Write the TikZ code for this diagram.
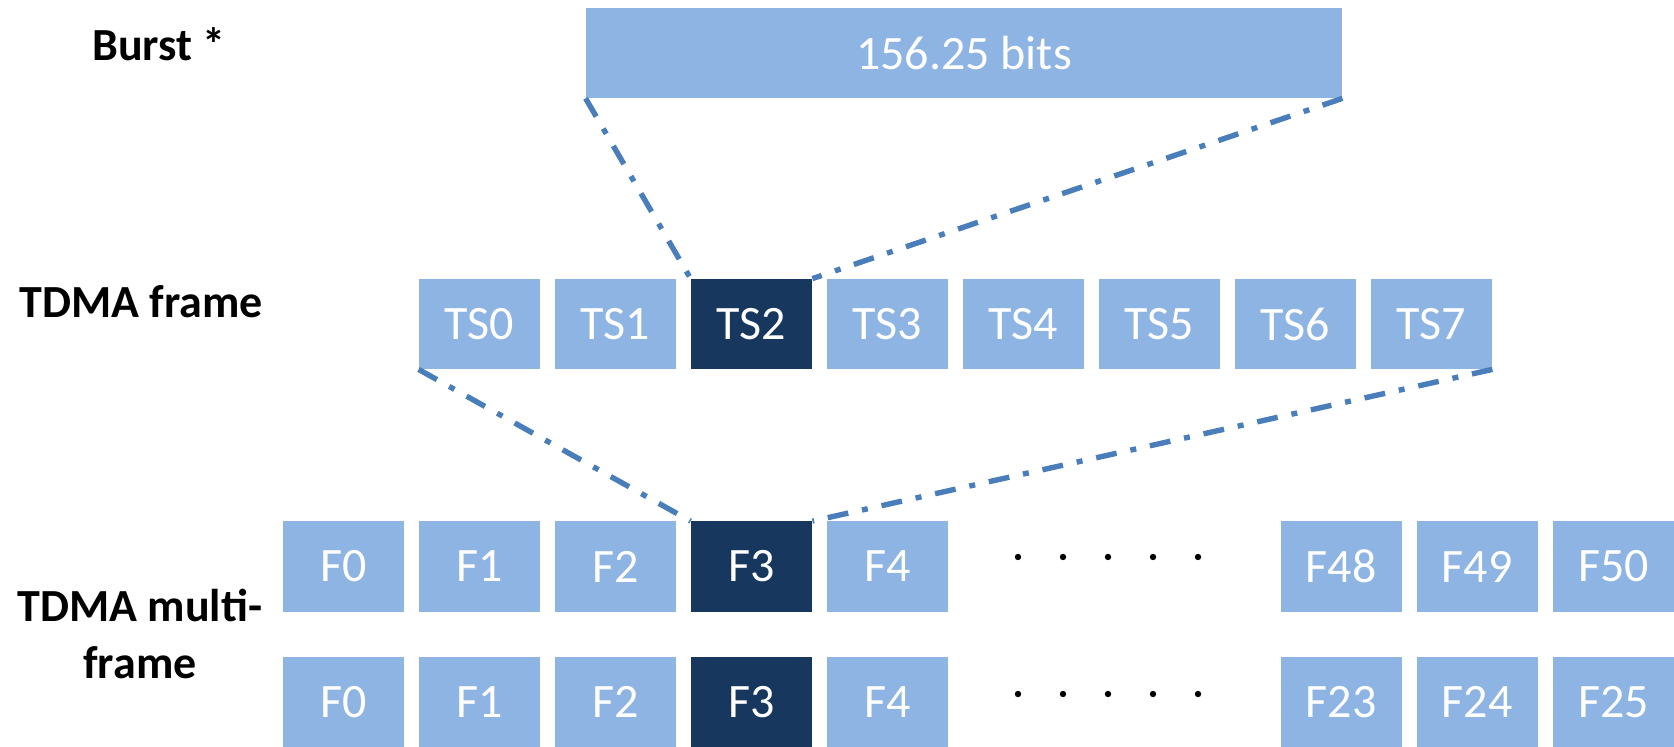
\documentclass[tikz,border=0pt]{standalone}
\usepackage{fontspec}
\setmainfont{Carlito}
\definecolor{slotblue}{HTML}{8EB4E3}
\definecolor{slotdark}{HTML}{17375E}
\definecolor{linkblue}{HTML}{4A7EBB}
\begin{document}
\begin{tikzpicture}
			[x=0.5pt,y=-0.5pt,
			slot/.style={rectangle,draw=none,fill=slotblue,text=white,minimum width=60.5pt,minimum height=45pt,inner sep=0pt,font=\fontsize{24}{28}\selectfont},
			active/.style={slot,fill=slotdark},
			lbl/.style={draw=none,fill=none,font=\fontsize{23}{28.5}\selectfont\bfseries,anchor=base,align=center},
			zoomline/.style={draw=linkblue,line width=2.7pt,dash pattern=on 10.5pt off 7pt on 3pt off 7pt}
			]
			\useasboundingbox (0,0) rectangle (1674,747);
			% row labels
			\node[lbl] (burstlbl) at (159,61) {Burst *};
			\node[lbl] (framelbl) at (141,318) {TDMA frame};
			\node[lbl] (multilbl) at (140,678) {TDMA multi-\\frame};

			% burst
			\node[slot,minimum width=378pt] (burst) at (964,53) {156.25 bits};

			% TDMA frame
			\node[slot] (ts0) at (479.5,324) {TS0};
			\node[slot] (ts1) at (615.5,324) {TS1};
			\node[active] (ts2) at (751.5,324) {TS2};
			\node[slot] (ts3) at (887.5,324) {TS3};
			\node[slot] (ts4) at (1023.5,324) {TS4};
			\node[slot] (ts5) at (1159.5,324) {TS5};
			\node[slot] (ts6) at (1295.5,324) {TS6};
			\node[slot] (ts7) at (1431.5,324) {TS7};

			% multiframe, 51 frames
			\node[slot] (a0) at (343.5,566.5) {F0};
			\node[slot] (a1) at (479.5,566.5) {F1};
			\node[slot] (a2) at (615.5,566.5) {F2};
			\node[active] (a3) at (751.5,566.5) {F3};
			\node[slot] (a4) at (887.5,566.5) {F4};
			\node[slot] (a48) at (1341,566.5) {F48};
			\node[slot] (a49) at (1477,566.5) {F49};
			\node[slot] (a50) at (1613.5,566.5) {F50};

			% multiframe, 26 frames
			\node[slot] (b0) at (343.5,702) {F0};
			\node[slot] (b1) at (479.5,702) {F1};
			\node[slot] (b2) at (615.5,702) {F2};
			\node[active] (b3) at (751.5,702) {F3};
			\node[slot] (b4) at (887.5,702) {F4};
			\node[slot] (b23) at (1341,702) {F23};
			\node[slot] (b24) at (1477,702) {F24};
			\node[slot] (b25) at (1613.5,702) {F25};

			% dots
			\foreach \x in {1018,1063,1108,1153,1198}{
				\fill (\x,557) circle (1.6pt);
				\fill (\x,694) circle (1.6pt);
			}

			% zoom lines
			\draw[zoomline] (burst.south west) -- (ts2.north west);
			\draw[zoomline] (burst.south east) -- (ts2.north east);
			\draw[zoomline] (ts0.south west) -- (a3.north west);
			\draw[zoomline] (ts7.south east) -- (a3.north east);
		\end{tikzpicture}
\end{document}
